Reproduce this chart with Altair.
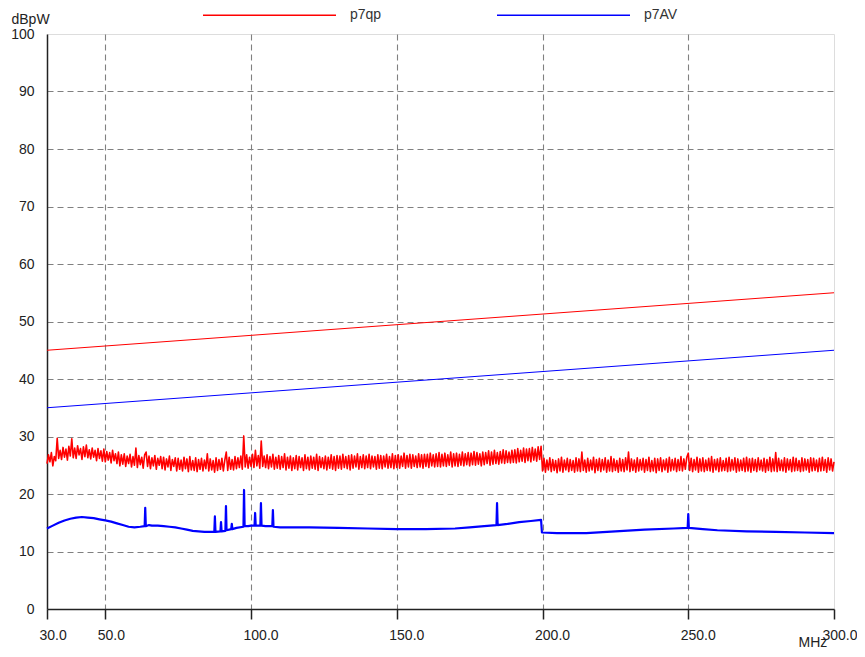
import altair as alt
import pandas as pd

FONT = "Liberation Sans"
TEXT_COLOR = "#222222"

SERIES = ["p7qp", "p7AV"]
COLORS = ["#ff0000", "#0000ff"]

X_TICKS = [30, 50, 100, 150, 200, 250, 300]
Y_TICKS = [0, 10, 20, 30, 40, 50, 60, 70, 80, 90, 100]

# limit lines (MHz -> dBpW)
LIMIT_FREQ = [30, 300]
QP_LIMIT = [45, 55]
AV_LIMIT = [35, 45]

# quasi-peak trace, readings every 0.5 MHz from 30 to 300 (10 per row = 5 MHz)
QP_LEVEL = [
    25.3, 26.8, 25.6, 27.2, 24.9, 26.5, 25.8, 29.7, 26.2, 27.6,
    26.0, 28.1, 26.4, 27.8, 25.9, 28.3, 26.6, 29.6, 26.3, 28.0,
    26.2, 28.4, 26.8, 27.9, 26.0, 28.2, 26.5, 28.5, 26.3, 27.7,
    26.1, 28.0, 26.4, 27.6, 25.8, 27.9, 26.2, 27.5, 25.7, 27.8,
    25.6, 27.4, 25.9, 27.2, 25.4, 27.6, 25.8, 27.0, 25.3, 27.3,
    24.9, 26.8, 25.2, 27.0, 24.8, 26.6, 25.3, 26.9, 24.7, 26.5,
    25.0, 28.0, 24.6, 26.7, 25.1, 26.4, 24.5, 26.8, 27.3, 24.8,
    26.6, 24.4, 26.3, 24.9, 26.7, 24.3, 26.2, 25.0, 26.5, 24.4,
    26.4, 24.2, 26.1, 24.7, 26.6, 24.1, 26.0, 24.8, 26.3, 24.0,
    26.2, 24.3, 25.9, 24.0, 26.4, 24.4, 26.1, 23.9, 26.5, 24.2,
    25.8, 24.1, 26.3, 23.9, 26.0, 24.3, 26.2, 24.0, 25.9, 24.4,
    27.0, 24.0, 26.1, 24.2, 25.8, 23.8, 26.3, 24.1, 26.0, 24.3,
    26.2, 24.0, 25.9, 27.3, 24.1, 26.4, 24.3, 26.0, 24.2, 26.5,
    24.4, 26.3, 24.6, 26.6, 24.3, 30.1, 24.7, 26.8, 24.5, 26.4,
    24.8, 26.9, 24.6, 27.6, 24.9, 26.7, 24.5, 29.2, 24.8, 26.6,
    24.6, 26.8, 24.4, 26.5, 24.7, 26.9, 24.3, 26.4, 24.5, 26.7,
    24.3, 26.5, 24.6, 27.0, 24.2, 26.4, 24.5, 26.6, 24.1, 26.3,
    24.4, 26.7, 24.2, 26.5, 24.6, 26.3, 24.1, 26.8, 24.4, 26.4,
    24.2, 26.6, 24.5, 26.4, 24.3, 26.9, 24.1, 26.5, 24.6, 26.3,
    24.4, 26.6, 24.2, 26.4, 24.5, 26.8, 24.3, 26.5, 24.1, 26.7,
    24.5, 26.6, 24.3, 26.9, 24.6, 26.5, 24.4, 26.7, 24.2, 26.8,
    24.5, 26.6, 24.7, 27.0, 24.3, 26.5, 24.6, 26.8, 24.4, 26.6,
    24.6, 26.9, 24.4, 26.6, 24.7, 26.5, 24.3, 26.8, 24.5, 26.7,
    24.4, 26.6, 24.7, 26.9, 24.5, 26.5, 24.6, 27.0, 24.4, 26.7,
    24.6, 26.8, 24.5, 26.6, 24.8, 27.1, 24.5, 26.7, 24.7, 26.9,
    24.5, 26.8, 24.8, 26.6, 24.6, 27.0, 24.7, 26.8, 24.5, 26.9,
    24.8, 26.9, 24.6, 27.1, 24.9, 26.8, 24.7, 27.0, 24.8, 27.2,
    24.7, 26.9, 24.9, 27.1, 24.8, 26.8, 25.0, 27.3, 24.7, 27.0,
    24.9, 27.1, 24.8, 26.9, 25.0, 27.3, 24.9, 27.0, 25.1, 27.2,
    24.9, 27.1, 25.1, 27.4, 25.0, 27.2, 25.2, 27.0, 24.9, 27.3,
    25.1, 27.2, 25.3, 27.5, 25.0, 27.3, 25.2, 27.6, 25.3, 27.2,
    25.2, 27.4, 25.4, 27.7, 25.3, 27.5, 25.5, 27.3, 25.4, 27.6,
    25.5, 27.7, 25.4, 27.9, 25.6, 27.6, 25.7, 28.0, 25.5, 27.8,
    25.8, 27.9, 25.6, 28.1, 25.9, 27.8, 25.7, 28.2, 26.0, 28.3,
    24.0, 26.2, 23.8, 25.9, 24.2, 26.3, 23.9, 26.0, 24.1, 25.8,
    23.7, 26.1, 24.0, 26.4, 23.8, 25.9, 24.2, 26.2, 23.9, 26.0,
    24.1, 25.8, 23.8, 26.3, 24.0, 26.1, 23.9, 27.3, 24.1, 25.9,
    23.8, 26.2, 24.0, 25.9, 24.2, 26.4, 23.7, 26.0, 24.1, 26.2,
    23.9, 26.0, 24.2, 26.3, 23.8, 25.9, 24.0, 26.5, 23.9, 26.1,
    24.1, 25.8, 23.8, 26.2, 24.0, 26.0, 23.9, 26.3, 24.2, 27.3,
    23.9, 26.1, 24.1, 25.9, 23.8, 26.3, 24.0, 26.0, 24.2, 26.2,
    23.8, 26.0, 24.1, 26.4, 23.9, 25.8, 24.0, 26.2, 23.7, 26.1,
    24.1, 26.3, 23.9, 25.9, 24.2, 26.1, 23.8, 26.4, 24.0, 26.0,
    24.2, 26.2, 23.9, 26.0, 24.1, 26.5, 24.0, 26.1, 24.3, 26.4,
    27.1, 24.1, 26.2, 23.9, 26.0, 24.2, 26.4, 23.8, 26.1, 24.0,
    26.3, 23.9, 25.9, 24.1, 26.2, 24.0, 26.5, 23.8, 26.0, 24.2,
    26.1, 23.9, 26.3, 24.0, 25.8, 24.1, 26.2, 23.9, 26.4, 24.0,
    26.0, 24.2, 26.3, 23.8, 26.1, 24.0, 25.9, 24.1, 26.2, 23.9,
    26.4, 24.0, 26.1, 23.8, 26.2, 24.1, 26.0, 23.9, 26.3, 24.2,
    25.9, 24.0, 26.2, 23.8, 26.0, 24.1, 26.4, 23.9, 26.1, 24.0,
    27.2, 23.9, 26.2, 24.1, 25.9, 24.0, 26.3, 23.8, 26.1, 24.2,
    26.0, 23.9, 26.4, 24.0, 26.2, 24.1, 25.8, 23.9, 26.3, 24.0,
    26.1, 24.2, 26.0, 23.8, 26.3, 24.0, 26.2, 24.1, 25.9, 23.9,
    26.2, 24.0, 26.4, 24.1, 26.0, 23.8, 26.3, 24.2, 26.1, 24.0,
    25.6,
]
QP_FREQ = [30 + 0.5 * i for i in range(len(QP_LEVEL))]

# average trace (smooth, with narrow spikes)
AV_FREQ = [
    30, 32, 34, 36, 38, 40, 42, 44, 46, 48, 50, 52, 54, 56, 58, 60, 62,
    63.5, 63.7, 63.9, 65, 66, 68, 70, 72, 74, 76, 78, 80, 82, 84, 86,
    87.4, 87.6, 87.8, 89.5, 89.7, 89.9, 91.2, 91.4, 91.6, 93.2, 93.4, 93.6,
    95, 97.4, 97.6, 97.8, 99, 100, 101.2, 101.4, 101.6, 103.2, 103.4, 103.6,
    105, 107.3, 107.5, 107.7, 110, 120, 130, 140, 150, 160, 170, 175, 180,
    184.2, 184.4, 184.6, 188, 192, 196, 199.5, 199.8, 205, 215, 225, 235,
    245, 249.8, 250, 250.2, 255, 260, 270, 280, 290, 300,
]
AV_LEVEL = [
    14.0, 14.5, 15.0, 15.4, 15.7, 15.9, 16.0, 15.9, 15.8, 15.6, 15.4, 15.2, 14.9, 14.6, 14.3, 14.2, 14.3,
    14.4, 17.6, 14.4, 14.6, 14.5, 14.5, 14.4, 14.3, 14.2, 14.0, 13.8, 13.6, 13.5, 13.4, 13.4,
    13.4, 16.1, 13.4, 13.5, 15.1, 13.5, 13.6, 17.9, 13.7, 13.9, 14.8, 13.9,
    14.1, 14.3, 20.7, 14.4, 14.4, 14.5, 14.5, 16.7, 14.5, 14.5, 18.4, 14.5,
    14.4, 14.4, 17.2, 14.3, 14.2, 14.2, 14.1, 14.0, 13.9, 13.9, 14.0, 14.2, 14.4,
    14.6, 18.4, 14.6, 14.8, 15.1, 15.3, 15.5, 13.3, 13.2, 13.2, 13.5, 13.8,
    14.0, 14.1, 16.5, 14.1, 13.9, 13.7, 13.5, 13.4, 13.3, 13.2,
]

trace_df = pd.concat([
    pd.DataFrame({"freq": QP_FREQ, "level": QP_LEVEL, "series": SERIES[0], "w": 1.6}),
    pd.DataFrame({"freq": AV_FREQ, "level": AV_LEVEL, "series": SERIES[1], "w": 2.2}),
], ignore_index=True)
trace_df["idx"] = range(len(trace_df))

limit_df = pd.concat([
    pd.DataFrame({"freq": LIMIT_FREQ, "level": QP_LIMIT, "series": SERIES[0]}),
    pd.DataFrame({"freq": LIMIT_FREQ, "level": AV_LIMIT, "series": SERIES[1]}),
], ignore_index=True)

x_enc = alt.X(
    "freq:Q",
    scale=alt.Scale(domain=[30, 300], nice=False, zero=False),
    axis=alt.Axis(
        values=X_TICKS, format=".1f", title="MHz",
        grid=True, gridDash=[6, 4], gridColor="#808080", gridWidth=1.1,
        gridOpacity=alt.condition("datum.value == 30 || datum.value == 300", alt.value(0), alt.value(1)),
        domainColor=TEXT_COLOR, domainWidth=1.5,
        ticks=True, tickColor=TEXT_COLOR, tickSize=10, tickWidth=1.5,
        labelAlign="left",
        labelOffset=alt.condition("datum.value == 300", alt.value(-12), alt.value(-8)),
        labelPadding=9, labelFlush=False, labelOverlap=False,
        labelFont=FONT, labelFontSize=14, labelColor=TEXT_COLOR,
        titleFont=FONT, titleFontSize=14, titleFontWeight="normal", titleColor=TEXT_COLOR,
        titleAlign="left", titleX=751, titleY=37, titleBaseline="alphabetic", titleAnchor="start",
    ),
)
y_enc = alt.Y(
    "level:Q",
    scale=alt.Scale(domain=[0, 100], nice=False),
    axis=alt.Axis(
        values=Y_TICKS, title="dBpW",
        grid=True, gridDash=[6, 4], gridColor="#808080", gridWidth=1.1,
        gridOpacity=alt.condition("datum.value == 0 || datum.value == 100", alt.value(0), alt.value(1)),
        domainColor=TEXT_COLOR, domainWidth=1.5,
        ticks=False, labelPadding=13, labelFlush=False, labelOverlap=False,
        labelFont=FONT, labelFontSize=14, labelColor=TEXT_COLOR,
        titleFont=FONT, titleFontSize=14, titleFontWeight="normal", titleColor=TEXT_COLOR,
        titleAngle=0, titleAlign="left", titleX=-36, titleY=-11, titleBaseline="alphabetic",
    ),
)
legend = alt.Legend(
    title=None, orient="none", legendX=155, legendY=-86.5, direction="horizontal",
    symbolType="stroke", symbolSize=17689, symbolStrokeWidth=1.5,
    labelFont=FONT, labelFontSize=14, labelColor="#333333", labelOffset=13,
    columnPadding=112,
)
color_enc = alt.Color("series:N", scale=alt.Scale(domain=SERIES, range=COLORS), legend=legend)

limits = alt.Chart(limit_df).mark_line(strokeWidth=1).encode(
    x=x_enc, y=y_enc, color=color_enc, detail="series:N"
)
traces = alt.Chart(trace_df).mark_line(strokeJoin="round").encode(
    x=x_enc, y=y_enc, color=color_enc, detail="series:N",
    order="idx:Q", strokeWidth=alt.StrokeWidth("w:Q", scale=None, legend=None),
)

chart = alt.layer(limits, traces).properties(
    width=787, height=575,
    autosize=alt.AutoSizeParams(type="none"),
    padding={"left": 39, "top": 26, "right": 23, "bottom": 40},
).configure_view(stroke=TEXT_COLOR, strokeWidth=1.5).configure(background="white")

chart.save("out.html", embed_options={"renderer": "svg", "actions": False})
